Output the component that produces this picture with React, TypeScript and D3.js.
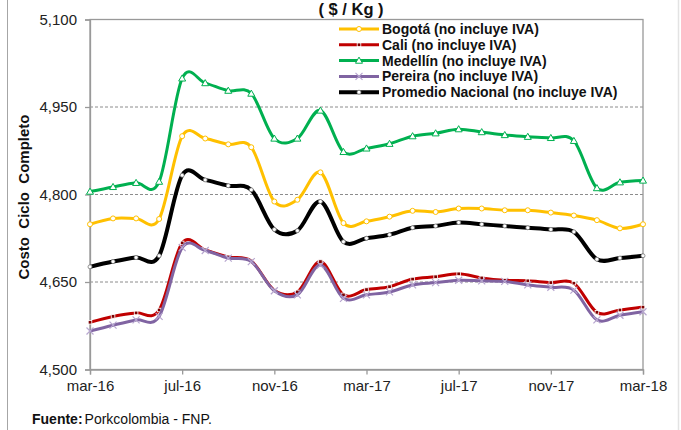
import { useEffect, useRef } from 'react'
import * as d3 from 'd3'

// Monthly cost of a complete pig cycle by city ($ / Kg)
const months = [
  'mar-16', 'abr-16', 'may-16', 'jun-16', 'jul-16', 'ago-16', 'sep-16', 'oct-16', 'nov-16',
  'dic-16', 'ene-17', 'feb-17', 'mar-17', 'abr-17', 'may-17', 'jun-17', 'jul-17', 'ago-17',
  'sep-17', 'oct-17', 'nov-17', 'dic-17', 'ene-18', 'feb-18', 'mar-18',
]
const tickMonths = ['mar-16', 'jul-16', 'nov-16', 'mar-17', 'jul-17', 'nov-17', 'mar-18']
const yTicks = [4500, 4650, 4800, 4950, 5100]

const bogota = [4749, 4759, 4759, 4758, 4900, 4896, 4886, 4881, 4788, 4791, 4838, 4751, 4754,
  4762, 4772, 4770, 4776, 4776, 4773, 4773, 4769, 4764, 4756, 4742, 4749]
const cali = [4581, 4591, 4597, 4602, 4717, 4705, 4693, 4686, 4636, 4633, 4685, 4628, 4637,
  4642, 4655, 4659, 4664, 4657, 4653, 4652, 4649, 4648, 4598, 4602, 4607]
const medellin = [4805, 4813, 4820, 4822, 4999, 4991, 4978, 4973, 4896, 4896, 4944, 4873, 4879,
  4887, 4900, 4905, 4912, 4907, 4902, 4899, 4897, 4892, 4811, 4821, 4824]
const pereira = [4566, 4576, 4585, 4591, 4709, 4704, 4691, 4685, 4635, 4628, 4679, 4622, 4628,
  4633, 4645, 4649, 4653, 4652, 4651, 4645, 4641, 4636, 4585, 4593, 4599]
const promedio = [4676, 4685, 4692, 4695, 4833, 4825, 4815, 4808, 4740, 4738, 4788, 4719, 4725,
  4731, 4743, 4746, 4752, 4749, 4746, 4743, 4740, 4736, 4689, 4691, 4695]

const series = [
  { name: 'Bogotá (no incluye IVA)', values: bogota, color: '#FFC000', width: 3, marker: 'circle' },
  { name: 'Cali (no incluye IVA)', values: cali, color: '#C00000', width: 3, marker: 'square' },
  { name: 'Medellín (no incluye IVA)', values: medellin, color: '#00B050', width: 3, marker: 'triangle' },
  { name: 'Pereira (no incluye IVA)', values: pereira, color: '#8064A2', width: 3, marker: 'x' },
  { name: 'Promedio Nacional (no incluye IVA)', values: promedio, color: '#000000', width: 4, marker: 'dot' },
]

const FONT = "'Liberation Sans', Arial, sans-serif"

function drawMarker(g: any, kind: string, cx: number, cy: number, color: string) {
  if (kind === 'circle') {
    g.append('circle').attr('cx', cx).attr('cy', cy).attr('r', 2.5)
      .attr('fill', '#fff').attr('stroke', color).attr('stroke-width', 1)
  } else if (kind === 'square') {
    g.append('rect').attr('x', cx - 1.8).attr('y', cy - 1.8).attr('width', 3.6).attr('height', 3.6)
      .attr('fill', '#7a0000').attr('stroke', '#fff').attr('stroke-width', 0.8)
  } else if (kind === 'triangle') {
    const s = 3.5
    g.append('path')
      .attr('d', `M${cx},${cy - s}L${cx + s},${cy + s * 0.75}L${cx - s},${cy + s * 0.75}Z`)
      .attr('fill', '#fff').attr('stroke', color).attr('stroke-width', 1)
  } else if (kind === 'x') {
    const s = 3.5
    g.append('path')
      .attr('d', `M${cx - s},${cy - s}L${cx + s},${cy + s}M${cx - s},${cy + s}L${cx + s},${cy - s}`)
      .attr('stroke', '#b7a6cf').attr('stroke-width', 1.2).attr('fill', 'none')
  } else {
    g.append('circle').attr('cx', cx).attr('cy', cy).attr('r', 2)
      .attr('fill', '#fff').attr('stroke', '#777').attr('stroke-width', 0.8)
  }
}

export default function App() {
  const svgRef = useRef<SVGSVGElement | null>(null)

  useEffect(() => {
    if (!svgRef.current) return
    const W = 681, H = 430
    const plot = { left: 90, right: 643, top: 19.5, bottom: 369.5 }

    const svg = d3.select(svgRef.current)
    svg.selectAll('*').remove()
    svg.attr('width', W).attr('height', H)

    svg.append('rect').attr('width', W).attr('height', H).attr('fill', '#fff')
    // outer chart border edges
    svg.append('line').attr('x1', 7.5).attr('x2', 7.5).attr('y1', 0).attr('y2', H)
      .attr('stroke', '#a6a6a6').attr('stroke-width', 1)
    svg.append('line').attr('x1', 678.5).attr('x2', 678.5).attr('y1', 0).attr('y2', H)
      .attr('stroke', '#e3e3e3').attr('stroke-width', 1.5)

    const x = d3.scalePoint().domain(months).range([plot.left, plot.right])
    const y = d3.scaleLinear().domain([4500, 5100]).range([plot.bottom, plot.top])

    // Grid lines
    svg.selectAll('.grid')
      .data(yTicks.filter(t => t > 4500 && t < 5100))
      .join('line')
      .attr('x1', plot.left).attr('x2', plot.right)
      .attr('y1', d => y(d)).attr('y2', d => y(d))
      .attr('stroke', '#8c8c8c').attr('stroke-width', 1)
      .attr('stroke-dasharray', '3,2')

    // Plot frame
    svg.append('rect')
      .attr('x', plot.left).attr('y', plot.top)
      .attr('width', plot.right - plot.left).attr('height', plot.bottom - plot.top)
      .attr('fill', 'none').attr('stroke', '#999').attr('stroke-width', 1.3)

    // X axis
    svg.append('g')
      .attr('transform', `translate(0,${plot.bottom})`)
      .call(d3.axisBottom(x).tickValues(tickMonths).tickSize(5).tickPadding(6))
      .call((g: any) => {
        g.select('.domain').attr('stroke', '#999').attr('stroke-width', 1.3)
        g.selectAll('.tick line').attr('stroke', '#999').attr('stroke-width', 1.3)
        g.selectAll('text').attr('fill', '#222').attr('font-size', '15px').attr('font-family', FONT)
      })

    // Y axis
    svg.append('g')
      .attr('transform', `translate(${plot.left},0)`)
      .call(d3.axisLeft(y).tickValues(yTicks).tickSize(5).tickPadding(8).tickFormat(d3.format(',')))
      .call((g: any) => {
        g.select('.domain').attr('stroke', '#999').attr('stroke-width', 1.3)
        g.selectAll('.tick line').attr('stroke', '#999').attr('stroke-width', 1.3)
        g.selectAll('text').attr('fill', '#222').attr('font-size', '15px').attr('font-family', FONT)
      })

    // Lines
    const line = d3.line<number>()
      .x((_, i) => x(months[i]) as number)
      .y(d => y(d))
      .curve(d3.curveCatmullRom.alpha(0))

    series.forEach(s => {
      svg.append('path')
        .datum(s.values)
        .attr('d', line)
        .attr('fill', 'none')
        .attr('stroke', s.color)
        .attr('stroke-width', s.width)
        .attr('stroke-linejoin', 'round')
      const mg = svg.append('g')
      s.values.forEach((v, i) => drawMarker(mg, s.marker, x(months[i]) as number, y(v), s.color))
    })

    // Legend
    const lg = svg.append('g')
    lg.append('rect').attr('x', 330).attr('y', 21).attr('width', 300).attr('height', 80).attr('fill', '#fff')
    series.forEach((s, i) => {
      const cy = 29 + i * 15.8
      lg.append('line').attr('x1', 339).attr('x2', 379).attr('y1', cy).attr('y2', cy)
        .attr('stroke', s.color).attr('stroke-width', s.width)
      drawMarker(lg, s.marker, 359, cy, s.color)
      lg.append('text').attr('x', 382).attr('y', cy + 5)
        .attr('font-family', FONT).attr('font-size', '14px').attr('font-weight', 'bold')
        .attr('fill', '#111').text(s.name)
    })

    // Title (units)
    svg.append('text').attr('x', 351).attr('y', 15).attr('text-anchor', 'middle')
      .attr('font-family', FONT).attr('font-size', '16.5px').attr('font-weight', 'bold')
      .attr('fill', '#111').text('( $ / Kg )')

    // Y axis title
    svg.append('text')
      .attr('transform', `translate(29,197) rotate(-90)`)
      .attr('text-anchor', 'middle')
      .attr('font-family', FONT).attr('font-size', '15px').attr('font-weight', 'bold')
      .attr('fill', '#111').attr('xml:space', 'preserve').text('Costo  Ciclo  Completo')

    // Source
    const src = svg.append('text').attr('x', 32).attr('y', 424)
      .attr('font-family', FONT).attr('font-size', '14px').attr('fill', '#111')
    src.append('tspan').attr('font-weight', 'bold').text('Fuente:')
    src.append('tspan').attr('dx', 2).text('Porkcolombia - FNP.')
  }, [])

  return (
    <svg ref={svgRef} style={{ position: 'absolute', left: 0, top: 0, display: 'block' }} />
  )
}
